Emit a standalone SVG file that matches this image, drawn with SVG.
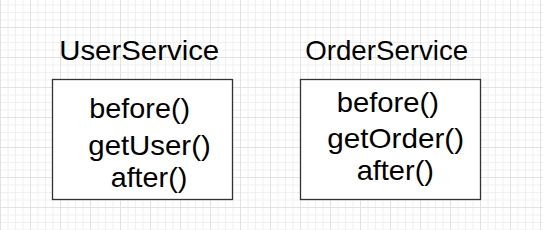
<svg xmlns="http://www.w3.org/2000/svg" width="543" height="230" viewBox="0 0 543 230">
<style>
.box{fill:#ffffff;stroke:#333333;stroke-width:1.3}
.t{font-family:"Liberation Sans",Arial,Helvetica,sans-serif;fill:#000000;text-anchor:middle}
.title{font-size:28px}
.m{font-size:28.5px}
</style>
<defs>
<pattern id="grid" x="0" y="-3" width="30" height="30" patternUnits="userSpaceOnUse">
<path d="M8 0V30M15.5 0V30M23 0V30M0 8H30M0 15.5H30M0 23H30" stroke="#f0f0f0" stroke-width="1" fill="none"/>
<path d="M0.5 0V30M0 0.5H30" stroke="#e2e2e2" stroke-width="1" fill="none"/>
</pattern>
</defs>
<rect x="0" y="0" width="543" height="230" fill="#ffffff"/>
<rect x="0" y="0" width="543" height="230" fill="url(#grid)"/>
<g id="connectors"></g>
<g id="UserService">
<text class="t title" x="139.2" y="59.5" textLength="160" lengthAdjust="spacingAndGlyphs">UserService</text>
<rect class="box" x="52.5" y="79.5" width="180" height="120"/>
<text class="t m" x="139.7" y="118.3" textLength="100.7" lengthAdjust="spacingAndGlyphs">before()</text>
<text class="t m" x="149.5" y="155" textLength="122.4" lengthAdjust="spacingAndGlyphs">getUser()</text>
<text class="t m" x="149" y="186.7" textLength="76.7" lengthAdjust="spacingAndGlyphs">after()</text>
</g>
<g id="OrderService">
<text class="t title" x="386.7" y="59.5" textLength="163" lengthAdjust="spacingAndGlyphs">OrderService</text>
<rect class="box" x="300.5" y="79.5" width="180" height="120"/>
<text class="t m" x="387.8" y="112.3" textLength="102.3" lengthAdjust="spacingAndGlyphs">before()</text>
<text class="t m" x="395.7" y="148.3" textLength="136.7" lengthAdjust="spacingAndGlyphs">getOrder()</text>
<text class="t m" x="395.3" y="180" textLength="77.3" lengthAdjust="spacingAndGlyphs">after()</text>
</g>
</svg>
